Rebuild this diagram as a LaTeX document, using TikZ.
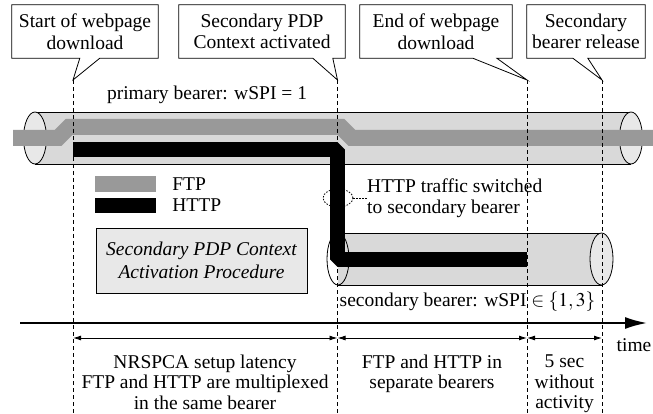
\documentclass[tikz,border=0pt]{standalone}
\usepackage{mathptmx}
\usepackage{fontspec}
\setmainfont{Liberation Serif}
\usetikzlibrary{arrows.meta,shapes.geometric,positioning}
\definecolor{ftpgray}{HTML}{999999}
\definecolor{tubegray}{HTML}{D9D9D9}
\definecolor{endgray}{HTML}{E8E8E8}

\begin{document}
\begin{tikzpicture}[x=1pt,y=-1pt,font=\fontsize{19.5}{21.5}\selectfont]

	\tikzstyle{callbox}=[inner sep=0pt, minimum height=53pt, align=center]
	\tikzstyle{marker}=[dash pattern=on 4pt off 3pt, line width=0.8pt]
	\tikzstyle{ftp}=[line width=16pt, ftpgray]
	\tikzstyle{http}=[line width=15pt, black, line join=bevel]
	\tikzstyle{tube}=[fill=tubegray, draw=none]
	\tikzstyle{tubeend}=[fill=endgray, draw=black, line width=0.8pt]
	\tikzstyle{span}=[{Latex[length=8pt,width=5pt]}-{Latex[length=8pt,width=5pt]}, line width=0.9pt]
	\tikzstyle{txt}=[inner sep=0pt, align=center]
	\tikzstyle{below text}=[txt, anchor=north, font=\fontsize{19.5}{20.2}\selectfont]

	\useasboundingbox (0,0) rectangle (653,414);

	\node [callbox, minimum width=146pt] (B1) at (85,31.5) {Start of webpage\\download};
	\node [callbox, minimum width=166pt] (B2) at (262,31.5) {Secondary PDP\\Context activated};
	\node [callbox, minimum width=152pt] (B3) at (436,31.5) {End of webpage\\download};
	\node [callbox, minimum width=118pt] (B4) at (586,31.5) {Secondary\\bearer release};

	\coordinate (T1) at (73,80);
	\coordinate (T2) at (337.5,80);
	\coordinate (T3) at (527,80);
	\coordinate (T4) at (602,80);
	\coordinate (bot) at (0,414);

	\draw[line width=0.8pt] (B1.south west) -- (B1.north west) -- (B1.north east) -- (B1.south east) -- ([xshift=88pt]B1.south west) -- (T1) -- ([xshift=68pt]B1.south west) -- cycle;
	\draw[line width=0.8pt] (B2.south west) -- (B2.north west) -- (B2.north east) -- (B2.south east) -- ([xshift=154pt]B2.south west) -- (T2) -- ([xshift=134pt]B2.south west) -- cycle;
	\draw[line width=0.8pt] (B3.south west) -- (B3.north west) -- (B3.north east) -- (B3.south east) -- ([xshift=137pt]B3.south west) -- (T3) -- ([xshift=113pt]B3.south west) -- cycle;
	\draw[line width=0.8pt] (B4.south west) -- (B4.north west) -- (B4.north east) -- (B4.south east) -- ([xshift=61pt]B4.south west) -- (T4) -- ([xshift=46pt]B4.south west) -- cycle;

	% primary bearer
	\fill[tube] (35,112) rectangle (631,164);
	\draw[line width=0.8pt] (35,112) -- (631,112) (35,164) -- (631,164);
	\draw[tubeend] (35,138) ellipse (11.5 and 26);
	\draw[tubeend] (631,138) ellipse (11.5 and 26);

	% secondary bearer
	\fill[tube] (338,233) rectangle (601.5,285);
	\draw[line width=0.8pt] (338,233) -- (601.5,233) (338,285) -- (601.5,285);
	\draw[line width=0.8pt] (338,259) ellipse (11 and 26);
	\draw[tubeend] (601.5,259) ellipse (11.5 and 26);

	\draw[ftp] (13,138) -- (58,138) -- (69,127) -- (341,127) -- (352,138) -- (653,138);

	\draw[marker] (T1) -- (T1 |- bot);
	\draw[marker] (T2) -- (T2 |- bot);
	\draw[marker] (T3) -- (T3 |- bot);
	\draw[marker] (T4) -- (T4 |- bot);

	\node [draw, ellipse, dash pattern=on 1.5pt off 1.5pt, line width=0.8pt, inner sep=0pt, minimum width=30pt, minimum height=18pt] (ring) at (338,198) {};
	\node [txt, align=left, anchor=west] (switch) at (367,198) {HTTP traffic switched\\to secondary bearer};
	\draw[dash pattern=on 1.5pt off 1.5pt, line width=0.8pt] (ring) -- (switch);

	\draw[http] (73,149.5) -- (337.5,149.5) -- (337.5,259.5) -- (527,259.5);

	\node [txt] (prim) at (207,95) {primary bearer: wSPI = 1};
	\node [txt] (sec) at (467.5,302) {secondary bearer: wSPI $\in \{1,3\}$};

	% legend
	\node [fill=ftpgray, inner sep=0pt, minimum width=61pt, minimum height=16pt] (Lftp) at (125.5,184) {};
	\node [fill=black, inner sep=0pt, minimum width=61pt, minimum height=15pt] (Lhttp) at (125.5,205.5) {};
	\node [txt, right=16pt of Lftp] (Tftp) {FTP};
	\node [txt, right=16pt of Lhttp] (Thttp) {HTTP};

	\node [txt, draw, fill=endgray, line width=0.8pt, minimum width=211pt, minimum height=65pt, font=\fontsize{19.5}{23}\selectfont\itshape] (proc) at (201.5,260.5) {Secondary PDP Context\\Activation Procedure};

	% time line
	\coordinate (A0) at (20,323);
	\coordinate (A1) at (647,323);
	\draw[line width=2pt, -{Latex[length=22pt,width=12pt]}] (A0) -- (A1);
	\node [txt] (time) at (634,345) {time};

	\coordinate (D) at (0,338);
	\draw[span] (T1 |- D) -- (T2 |- D);
	\draw[span] (T2 |- D) -- (T3 |- D);
	\draw[span] (T3 |- D) -- (T4 |- D);

	\node [below text] (lat) at (205,355) {NRSPCA setup latency\\FTP and HTTP are multiplexed\\in the same bearer};
	\node [below text] (sep) at (432,355) {FTP and HTTP in\\separate bearers};
	\node [below text] (idle) at (564.5,355) {5 sec\\without\\activity};

\end{tikzpicture}
\end{document}
